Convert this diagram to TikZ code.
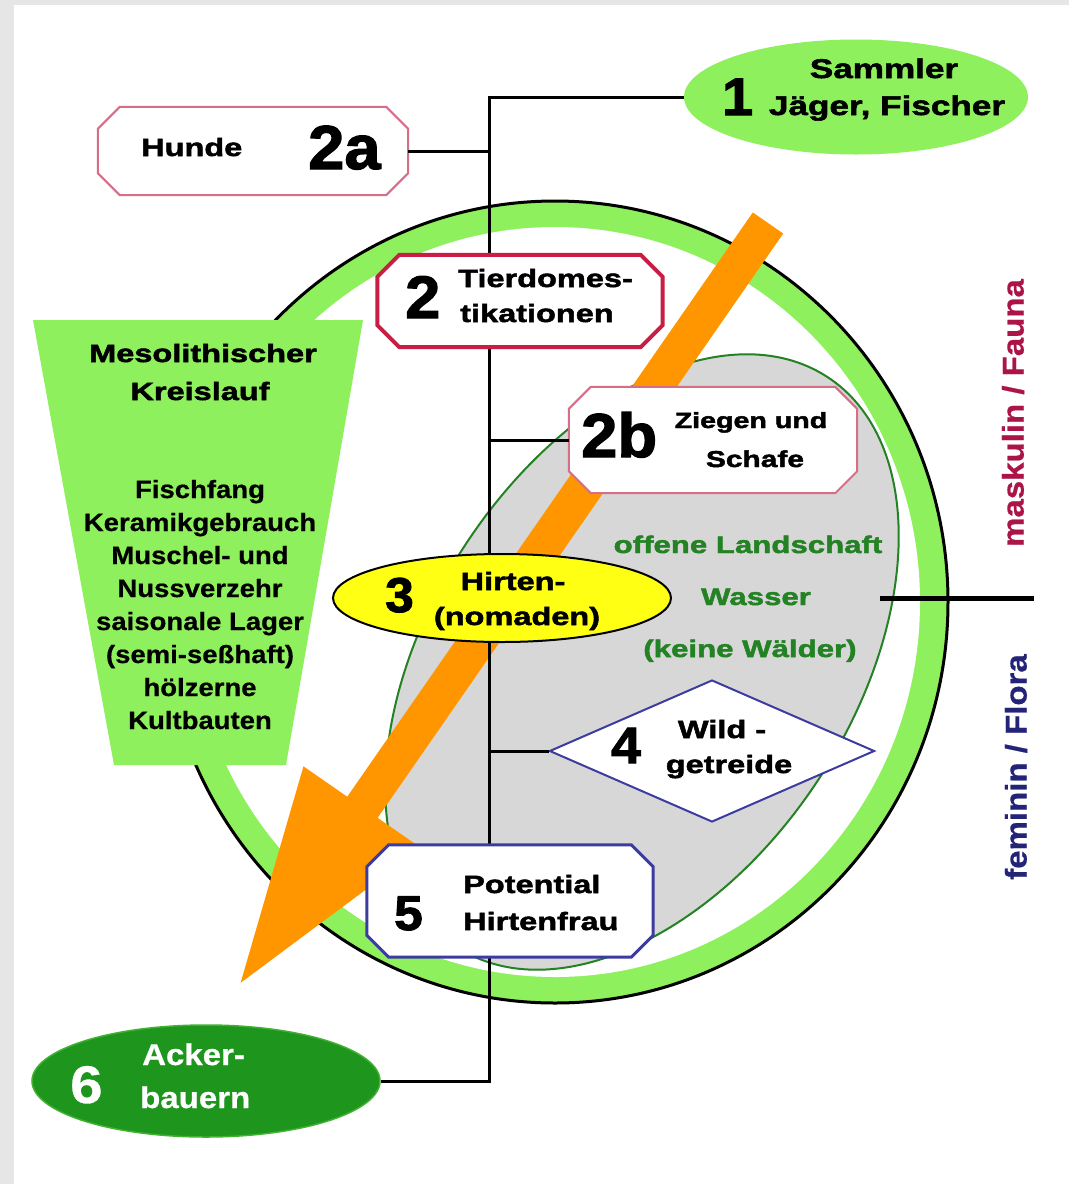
\documentclass[tikz,border=0pt]{standalone}
\usepackage{fontspec}
\setmainfont{Liberation Sans}
\newfontfamily\blk{Liberation Sans Bold}[FakeStretch=1.3,FakeBold=2]
\newfontfamily\lst{Liberation Sans Bold}[FakeStretch=1.1,FakeBold=0.6]
\newfontfamily\dig{Liberation Sans Bold}[FakeStretch=1.05,FakeBold=2]
\usetikzlibrary{arrows.meta, shapes.geometric, calc}

\definecolor{pale}{RGB}{230,230,230}
\definecolor{leaf}{RGB}{143,240,94}
\definecolor{field}{RGB}{30,150,30}
\definecolor{grass}{RGB}{35,130,35}
\definecolor{steppe}{RGB}{215,215,215}
\definecolor{arrow}{RGB}{255,150,0}
\definecolor{crimson}{RGB}{200,30,70}
\definecolor{rose}{RGB}{215,110,135}
\definecolor{ink}{RGB}{60,60,160}
\definecolor{fauna}{RGB}{170,20,70}
\definecolor{flora}{RGB}{35,35,120}
\definecolor{sun}{RGB}{255,255,20}

% octagon outline round a box node
\newcommand\chamfer[2]{%
    \filldraw[fill=white, #2] ($(#1.north west)+(22,0)$) -- ($(#1.north east)+(-22,0)$) -- ($(#1.north east)+(0,22)$) -- ($(#1.south east)+(0,-22)$) -- ($(#1.south east)+(-22,0)$) -- ($(#1.south west)+(22,0)$) -- ($(#1.south west)+(0,-22)$) -- ($(#1.north west)+(0,22)$) -- cycle;}

\begin{document}
\begin{tikzpicture}[x=1pt, y=-1pt,
    box/.style={rectangle, inner sep=0pt},
    txt/.style={inner sep=0pt, anchor=base, font=\blk\fontsize{25}{30}\selectfont},
    num/.style={inner sep=0pt, anchor=base west, font=\dig\fontsize{60}{60}\selectfont},
    item/.style={inner sep=0pt, anchor=base, font=\lst\fontsize{25}{30}\selectfont},
    lnk/.style={line width=3pt}]
    \useasboundingbox (0,0) rectangle (1069,1184);
    \fill[pale] (0,0) rectangle (1069,1184);
    \fill[white] (14,5) rectangle (1069,1184);

    %ring
    \filldraw[fill=leaf, draw=black, line width=3pt] (555,602) ellipse [x radius=393, y radius=401];
    \fill[white] (555,602) ellipse [x radius=365, y radius=375];
    \filldraw[fill=steppe, draw=grass, line width=2pt, rotate around={57:(642,662)}] (642,662) ellipse [x radius=340, y radius=212];

    %Mesolithic
    \fill[leaf] (33,320) -- (363,320) -- (286,765) -- (114,765) -- cycle;
    \node at (203,362) [txt] (meso) {Mesolithischer};
    \node at (200,400) [txt] (kreis) {Kreislauf};
    \foreach \line [count=\i from 0] in {Fischfang, Keramikgebrauch, Muschel- und, Nussverzehr, saisonale Lager, (semi-seßhaft), hölzerne, Kultbauten}
        \node at (200, 498 + 33*\i) [item] (m\i) {\line};

    %arrow
    \coordinate (arrtop) at (768,223);
    \coordinate (arrtip) at (237,988);
    \draw[arrow, line width=37pt, -{Triangle[length=220pt, width=132pt]}] (arrtop) -- (arrtip);

    %trunk
    \node at (856,97) [ellipse, fill=leaf, minimum width=344, minimum height=115, inner sep=0pt] (n1) {};
    \node at (206,1081) [ellipse, fill=field, draw=field!70!leaf, line width=1.5pt, minimum width=348, minimum height=112, inner sep=0pt] (n6) {};
    \coordinate (ttop) at (489,97);
    \coordinate (tbot) at (489,1081);
    \draw[lnk] (n1.west) -- (ttop) -- (tbot) -- (n6.east);

    \node at (253,151) [box, minimum width=310, minimum height=88] (n2a) {};
    \chamfer{n2a}{draw=rose, line width=2pt}
    \node at (713,440) [box, minimum width=288, minimum height=106] (n2b) {};
    \chamfer{n2b}{draw=rose, line width=2pt}
    \node at (712,751) [diamond, draw=ink, fill=white, line width=2pt, minimum width=325, minimum height=142, inner sep=0pt] (n4) {};
    \draw[lnk] (n2a.east) -- (n2a.east -| ttop);
    \draw[lnk] (n2b.west) -- (n2b.west -| ttop);
    \draw[lnk] (n4.west) -- (n4.west -| ttop);

    \node at (520,301) [box, minimum width=285, minimum height=92] (n2) {};
    \chamfer{n2}{draw=crimson, line width=4pt}
    \node at (502,598) [ellipse, fill=sun, draw, line width=2pt, minimum width=338, minimum height=88, inner sep=0pt] (n3) {};
    \node at (510,901) [box, minimum width=286, minimum height=112] (n5) {};
    \chamfer{n5}{draw=ink, line width=3pt}

    % axis
    \coordinate (axl) at (880,598);
    \coordinate (axr) at (1034,598);
    \draw[line width=5pt] (axl) -- (axr);
    \node at (1013,413) [rotate=90, text=fauna, font=\lst\fontsize{30}{30}\selectfont] (masc) {maskulin / Fauna};
    \node at (1016,767) [rotate=90, text=flora, font=\lst\fontsize{30}{30}\selectfont] (fem) {feminin / Flora};

    %labels
    \node at (722,115) [num, font=\dig\fontsize{53}{53}\selectfont] (l1) {1};
    \node at (884,78) [txt, font=\blk\fontsize{27}{30}\selectfont] (l1a) {Sammler};
    \node at (887,115) [txt, font=\blk\fontsize{27}{30}\selectfont] (l1b) {Jäger, Fischer};

    \node at (141,156) [txt, anchor=base west] (l2aa) {Hunde};
    \node at (308,169) [num, font=\dig\fontsize{62}{62}\selectfont] (l2a) {2a};

    \node at (405,318) [num] (l2) {2};
    \node at (458,287) [txt, anchor=base west] (l2x) {Tierdomes-};
    \node at (460,322) [txt, anchor=base west] (l2y) {tikationen};

    \node at (581,457) [num, font=\dig\fontsize{62}{62}\selectfont] (l2b) {2b};
    \node at (751,428) [txt, font=\blk\fontsize{22}{30}\selectfont] (l2bx) {Ziegen und};
    \node at (755,467) [txt, font=\blk\fontsize{23}{30}\selectfont] (l2by) {Schafe};

    \node at (385,612) [num, font=\dig\fontsize{49}{49}\selectfont] (l3) {3};
    \node at (513,590) [txt] (l3x) {Hirten-};
    \node at (517,625) [txt] (l3y) {(nomaden)};

    \node at (748,553) [txt, text=grass, font=\blk\fontsize{24}{30}\selectfont] (g1) {offene Landschaft};
    \node at (756,605) [txt, text=grass, font=\blk\fontsize{24}{30}\selectfont] (g2) {Wasser};
    \node at (750,657) [txt, text=grass, font=\blk\fontsize{24}{30}\selectfont] (g3) {(keine Wälder)};

    \node at (611,763) [num, font=\dig\fontsize{51}{51}\selectfont] (l4) {4};
    \node at (722,738) [txt] (l4x) {Wild -};
    \node at (729,773) [txt] (l4y) {getreide};

    \node at (394,930) [num, font=\dig\fontsize{49}{49}\selectfont] (l5) {5};
    \node at (463,893) [txt, anchor=base west] (l5x) {Potential};
    \node at (463,930) [txt, anchor=base west] (l5y) {Hirtenfrau};

    \node at (70,1103) [num, text=white, font=\lst\fontsize{53}{53}\selectfont] (l6) {6};
    \node at (142,1065) [item, anchor=base west, text=white, font=\lst\fontsize{30}{30}\selectfont] (l6x) {Acker-};
    \node at (140,1108) [item, anchor=base west, text=white, font=\lst\fontsize{30}{30}\selectfont] (l6y) {bauern};
\end{tikzpicture}
\end{document}
